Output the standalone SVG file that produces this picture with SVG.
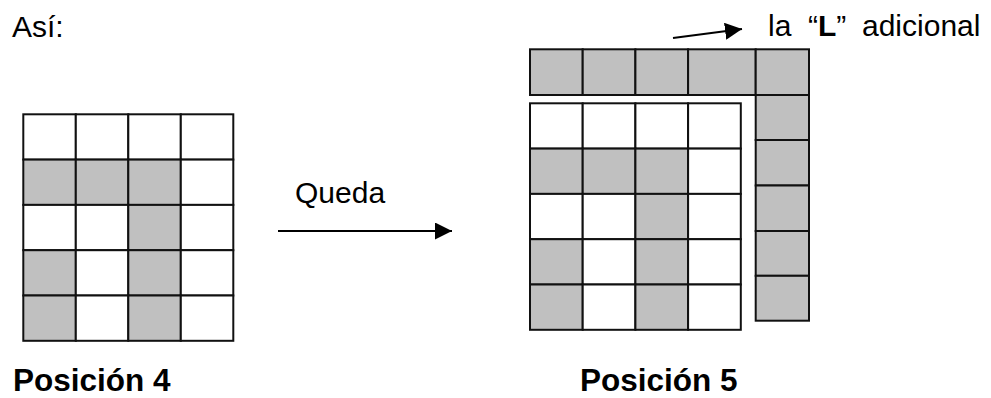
<svg xmlns="http://www.w3.org/2000/svg" width="991" height="398" viewBox="0 0 991 398">
<style>
.t{font-family:"Liberation Sans",Arial,sans-serif;font-size:30px;fill:#000}
.b{font-family:"Liberation Sans",Arial,sans-serif;font-size:31.5px;font-weight:bold;fill:#000}
.g{fill:#c0c0c0;stroke:#111;stroke-width:2}
.w{fill:#fff;stroke:#111;stroke-width:2}
.c{stroke:#000;stroke-width:2;fill:none}
</style>
<defs>
<marker id="ah" markerUnits="userSpaceOnUse" markerWidth="18" markerHeight="17" refX="17" refY="8.5" orient="auto" viewBox="0 0 18 17">
<path d="M0,0 L17,8.5 L0,17 z" fill="#000"/>
</marker>
</defs>
<rect width="991" height="398" fill="#fff"/>
<g id="texts">
<text class="t" x="12" y="37">Así:</text>
<text class="t" x="295" y="203">Queda</text>
<text class="t" x="768" y="36">la</text>
<text class="t" x="808" y="36">“<tspan font-weight="bold">L</tspan>”</text>
<text class="t" x="862" y="36">adicional</text>
<text class="b" x="13" y="391">Posición 4</text>
<text class="b" x="580" y="391">Posición 5</text>
</g>
<g id="pos4">
<rect class="w" x="23.3" y="114.3" width="52.5" height="45.3"/>
<rect class="w" x="75.8" y="114.3" width="52.5" height="45.3"/>
<rect class="w" x="128.3" y="114.3" width="52.5" height="45.3"/>
<rect class="w" x="180.8" y="114.3" width="52.5" height="45.3"/>
<rect class="g" x="23.3" y="159.6" width="52.5" height="45.3"/>
<rect class="g" x="75.8" y="159.6" width="52.5" height="45.3"/>
<rect class="g" x="128.3" y="159.6" width="52.5" height="45.3"/>
<rect class="w" x="180.8" y="159.6" width="52.5" height="45.3"/>
<rect class="w" x="23.3" y="204.9" width="52.5" height="45.3"/>
<rect class="w" x="75.8" y="204.9" width="52.5" height="45.3"/>
<rect class="g" x="128.3" y="204.9" width="52.5" height="45.3"/>
<rect class="w" x="180.8" y="204.9" width="52.5" height="45.3"/>
<rect class="g" x="23.3" y="250.2" width="52.5" height="45.3"/>
<rect class="w" x="75.8" y="250.2" width="52.5" height="45.3"/>
<rect class="g" x="128.3" y="250.2" width="52.5" height="45.3"/>
<rect class="w" x="180.8" y="250.2" width="52.5" height="45.3"/>
<rect class="g" x="23.3" y="295.5" width="52.5" height="45.3"/>
<rect class="w" x="75.8" y="295.5" width="52.5" height="45.3"/>
<rect class="g" x="128.3" y="295.5" width="52.5" height="45.3"/>
<rect class="w" x="180.8" y="295.5" width="52.5" height="45.3"/>
</g>
<g id="pos5">
<rect class="w" x="530" y="103.3" width="52.7" height="45.3"/>
<rect class="w" x="582.7" y="103.3" width="52.7" height="45.3"/>
<rect class="w" x="635.4" y="103.3" width="52.7" height="45.3"/>
<rect class="w" x="688.1" y="103.3" width="52.7" height="45.3"/>
<rect class="g" x="530" y="148.6" width="52.7" height="45.3"/>
<rect class="g" x="582.7" y="148.6" width="52.7" height="45.3"/>
<rect class="g" x="635.4" y="148.6" width="52.7" height="45.3"/>
<rect class="w" x="688.1" y="148.6" width="52.7" height="45.3"/>
<rect class="w" x="530" y="193.9" width="52.7" height="45.3"/>
<rect class="w" x="582.7" y="193.9" width="52.7" height="45.3"/>
<rect class="g" x="635.4" y="193.9" width="52.7" height="45.3"/>
<rect class="w" x="688.1" y="193.9" width="52.7" height="45.3"/>
<rect class="g" x="530" y="239.2" width="52.7" height="45.3"/>
<rect class="w" x="582.7" y="239.2" width="52.7" height="45.3"/>
<rect class="g" x="635.4" y="239.2" width="52.7" height="45.3"/>
<rect class="w" x="688.1" y="239.2" width="52.7" height="45.3"/>
<rect class="g" x="530" y="284.5" width="52.7" height="45.3"/>
<rect class="w" x="582.7" y="284.5" width="52.7" height="45.3"/>
<rect class="g" x="635.4" y="284.5" width="52.7" height="45.3"/>
<rect class="w" x="688.1" y="284.5" width="52.7" height="45.3"/>
</g>
<g id="extraL">
<rect class="g" x="530" y="49.3" width="52.7" height="45.7"/>
<rect class="g" x="582.7" y="49.3" width="52.7" height="45.7"/>
<rect class="g" x="635.4" y="49.3" width="52.7" height="45.7"/>
<rect class="g" x="688.1" y="49.3" width="67.6" height="45.7"/>
<rect class="g" x="755.7" y="49.3" width="53.3" height="45.7"/>
<rect class="g" x="755.7" y="95" width="53.3" height="45"/>
<rect class="g" x="755.7" y="140" width="53.3" height="45.5"/>
<rect class="g" x="755.7" y="185.5" width="53.3" height="45.5"/>
<rect class="g" x="755.7" y="231" width="53.3" height="44.8"/>
<rect class="g" x="755.7" y="275.8" width="53.3" height="44.9"/>
</g>
<g id="connectors">
<line class="c" x1="278" y1="231" x2="452" y2="231" marker-end="url(#ah)"/>
<line class="c" x1="673" y1="38" x2="742" y2="29" marker-end="url(#ah)"/>
</g>
</svg>
